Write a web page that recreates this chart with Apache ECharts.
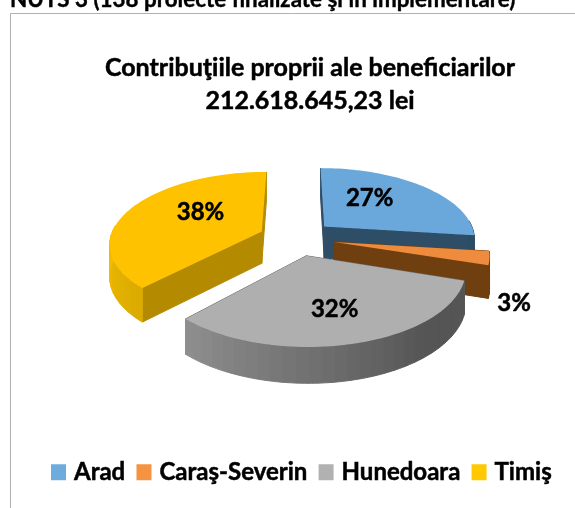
<!DOCTYPE html>
<html><head><meta charset="utf-8">
<style>html,body{margin:0;padding:0;background:#fff;overflow:hidden}#c{width:575px;height:508px}</style>
<script src="https://cdn.jsdelivr.net/npm/echarts@6/dist/echarts.min.js"></script>
</head><body><div id="c"></div>
<script>
const categories = ['Arad', 'Caraş-Severin', 'Hunedoara', 'Timiş'];
const shares = [27, 3, 32, 38];
const pageHeading = 'NUTS 3 (138 proiecte finalizate şi în implementare)';
const titleLines = 'Contribuţiile proprii ale beneficiarilor\n212.618.645,23 lei';

const FONT = 'Lato';
const topColors = ['#6AA8DC', '#EE8B3C', '#AFAFAF', '#FEC200'];
const legendColors = ['#6FACDE', '#F49340', '#B1B1B1', '#FFC800'];
const radialWall = ['#2E4D66', '#6F3F10', '#6A6A6A', '#B38A00'];
const arcDark = ['#2E4D66', '#6F3F10', '#555555', '#B08800'];
const arcLit = ['#3F6A8C', '#8A5015', '#B0B0B0', '#F2BD00'];
const labelPlace = [[37.5, 0.56], [126.5, 1.26], [166, 0.645], [304, 0.53]];

const view = {cx: 296.5, cy: 238, rx: 151.5, ry: 70.8, persp: 0.155, depth: 32, explode: 0.25};
const rad = d => d * Math.PI / 180;
const project = (U, V, down) => {
  const s = 1 / (1 - view.persp * V);
  return [view.cx + view.rx * U * s,
          view.cy + view.ry * V * s + (down ? view.depth * Math.pow(s, 0.6) : 0)];
};
const total = shares.reduce((a, b) => a + b, 0);
const spans = [];
shares.reduce((acc, v) => { const e = acc + v / total * 360; spans.push([acc, e]); return e; }, 0);

function sliceChildren(i) {
  const [a0, a1] = spans[i];
  const mid = rad((a0 + a1) / 2);
  const U0 = view.explode * Math.sin(mid), V0 = -view.explode * Math.cos(mid);
  const rim = (a) => [U0 + Math.sin(rad(a)), V0 - Math.cos(rad(a))];
  const kids = [];
  const poly = (pts, fill, z) => kids.push({type: 'polygon', z2: z || 1,
    shape: {points: pts}, style: {fill, stroke: fill, lineWidth: 1}});
  // radial walls
  [a0, a1].forEach(a => {
    const [U, V] = rim(a);
    poly([project(U0, V0), project(U, V), project(U, V, true), project(U0, V0, true)], radialWall[i], 1);
  });
  // outer wall, in bands
  const from = Math.max(a0, 85), to = Math.min(a1, 275), band = 4;
  for (let a = from; a < to; a += band) {
    const b = Math.min(a + band, to);
    const t = Math.max(0, Math.min(1, ((a + b) / 2 - 140) / 130));
    const col = echarts.color.lerp(t, [arcDark[i], arcLit[i]]);
    const pts = [], low = [];
    for (let d = a; d <= b + 0.001; d += (b - a) / 4) {
      const [U, V] = rim(d);
      pts.push(project(U, V)); low.unshift(project(U, V, true));
    }
    poly(pts.concat(low), col, 2);
  }
  // top face
  const top = [project(U0, V0)];
  for (let d = a0; d <= a1 + 0.001; d += (a1 - a0) / 60) {
    const [U, V] = rim(d);
    top.push(project(U, V));
  }
  kids.push({type: 'polygon', z2: 3, shape: {points: top}, style: {fill: topColors[i]}});
  // percent label
  const [la, lr] = labelPlace[i];
  const p = project(U0 + lr * Math.sin(rad(la)), V0 - lr * Math.cos(rad(la)));
  kids.push({type: 'text', z2: 10, x: p[0], y: p[1], style: {
    text: Math.round(shares[i] / total * 100) + '%', fill: '#000', stroke: '#000', lineWidth: 0.5,
    font: 'bold 24px ' + FONT, align: 'center', verticalAlign: 'middle'}});
  return kids;
}

const chart = echarts.init(document.getElementById('c'), null, {renderer: 'canvas'});
chart.setOption({
  animation: false,
  backgroundColor: '#fff',
  title: {text: titleLines, left: 305, textAlign: 'center', top: 46,
    textStyle: {fontFamily: FONT, fontWeight: 'bold', fontSize: 25, lineHeight: 33, color: '#000',
      textBorderColor: '#000', textBorderWidth: 0.5}},
  legend: {left: 51, top: 460, width: 524, padding: 0, itemWidth: 15, itemHeight: 16, itemGap: 11, icon: 'rect',
    textStyle: {fontFamily: FONT, fontWeight: 'bold', fontSize: 24, color: '#000', padding: [0, 0, 0, 3],
      textBorderColor: '#000', textBorderWidth: 0.5},
    data: categories.map((n, i) => ({name: n, itemStyle: {color: legendColors[i]}}))},
  graphic: [
    {type: 'line', shape: {x1: 10.5, y1: 13.5, x2: 575, y2: 13.5}, style: {stroke: '#B0B0B0', lineWidth: 1}},
    {type: 'line', shape: {x1: 10.5, y1: 13.5, x2: 10.5, y2: 508}, style: {stroke: '#B0B0B0', lineWidth: 1}},
    {type: 'text', x: 10, y: 11, style: {text: pageHeading, fill: '#000', stroke: '#000', lineWidth: 0.4,
      font: 'bold 22.4px ' + FONT, verticalAlign: 'bottom'}}
  ],
  series: categories.map((n, i) => ({
    type: 'custom', name: n, coordinateSystem: 'none', z: i + 2,
    itemStyle: {color: legendColors[i]},
    data: [[shares[i]]],
    renderItem: () => ({type: 'group', children: sliceChildren(i)})
  }))
});
</script></body></html>
